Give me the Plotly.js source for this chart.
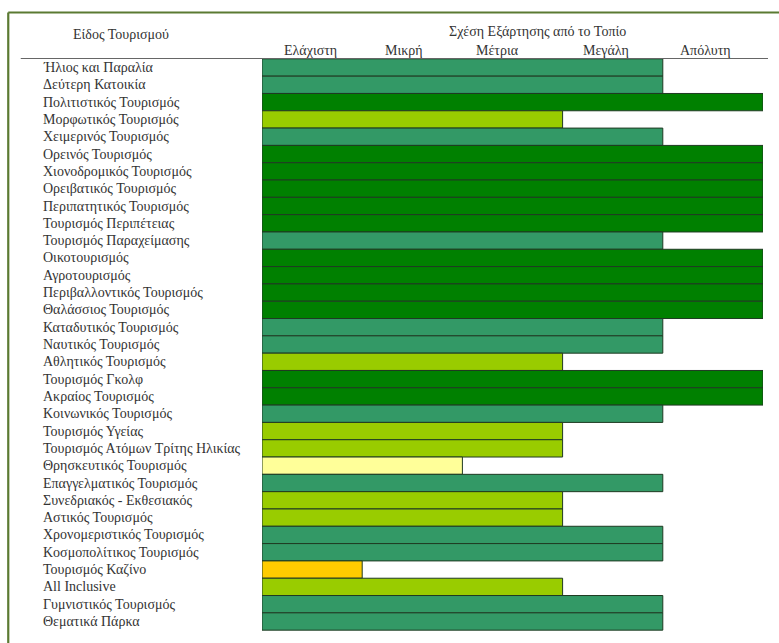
<!DOCTYPE html>
<html>
<head>
<meta charset="utf-8">
<script src="https://cdn.plot.ly/plotly-3.0.1.min.js"></script>
<style>html,body{margin:0;padding:0;background:#fff;}#chart{width:779px;height:643px;}</style>
</head>
<body>
<div id="chart"></div>
<script>
// Data
const tourismTypes = [
  "Ήλιος και Παραλία","Δεύτερη Κατοικία","Πολιτιστικός Τουρισμός","Μορφωτικός Τουρισμός",
  "Χειμερινός Τουρισμός","Ορεινός Τουρισμός","Χιονοδρομικός Τουρισμός","Ορειβατικός Τουρισμός",
  "Περιπατητικός Τουρισμός","Τουρισμός Περιπέτειας","Τουρισμός Παραχείμασης","Οικοτουρισμός",
  "Αγροτουρισμός","Περιβαλλοντικός Τουρισμός","Θαλάσσιος Τουρισμός","Καταδυτικός Τουρισμός",
  "Ναυτικός Τουρισμός","Αθλητικός Τουρισμός","Τουρισμός Γκολφ","Ακραίος Τουρισμός",
  "Κοινωνικός Τουρισμός","Τουρισμός Υγείας","Τουρισμός Ατόμων Τρίτης Ηλικίας","Θρησκευτικός Τουρισμός",
  "Επαγγελματικός Τουρισμός","Συνεδριακός - Εκθεσιακός","Αστικός Τουρισμός","Χρονομεριστικός Τουρισμός",
  "Κοσμοπολίτικος Τουρισμός","Τουρισμός Καζίνο","All Inclusive","Γυμνιστικός Τουρισμός","Θεματικά Πάρκα"
];
const dependenceLevel = [
  4,4,5,3,
  4,5,5,5,
  5,5,4,5,
  5,5,5,4,
  4,3,5,5,
  4,3,3,2,
  4,3,3,4,
  4,1,3,4,4
];
const levelLabels = ["Ελάχιστη","Μικρή","Μέτρια","Μεγάλη","Απόλυτη"];
const levelLabelPos = [0.48, 1.42, 2.35, 3.43, 4.43];
const rowHeader = "Είδος Τουρισμού";
const colHeader = "Σχέση Εξάρτησης από το Τοπίο";

const levelColors = {1:"#FFCC00",2:"#FFFF99",3:"#99CC00",4:"#339966",5:"#008000"};

// geometry helpers (pixel -> paper)
const L=261.5, R=763, T=58, B=631, W=779, H=643;
const px = x => (x-L)/(R-L);
const py = y => (B-y)/(B-T);

const txtFont = {family:"Liberation Serif, Times New Roman, serif", size:14, color:"#333333"};
const hdrFont = {family:"Liberation Serif, Times New Roman, serif", size:14, color:"#333333"};

const trace = {
  type:"bar", orientation:"h",
  y: tourismTypes, x: dependenceLevel,
  marker:{color: dependenceLevel.map(v=>levelColors[v]), line:{color:"#1f3a22", width:1}},
  hoverinfo:"y+x"
};

const annotations = [];
tourismTypes.forEach(t=>{
  annotations.push({xref:"paper", yref:"y", x:px(40), y:t, text:t, showarrow:false,
    xanchor:"left", yanchor:"middle", font:txtFont});
});
levelLabels.forEach((lab,i)=>{
  annotations.push({xref:"x", yref:"paper", x:levelLabelPos[i], y:py(51), text:lab, showarrow:false,
    xanchor:"center", yanchor:"middle", font:hdrFont});
});
annotations.push({xref:"paper", yref:"paper", x:px(120), y:py(35), text:rowHeader, showarrow:false,
  xanchor:"center", yanchor:"middle", font:hdrFont});
annotations.push({xref:"paper", yref:"paper", x:px(537), y:py(32), text:colHeader, showarrow:false,
  xanchor:"center", yanchor:"middle", font:hdrFont});

const shapes = [
  // header underline
  {type:"line", xref:"paper", yref:"paper", x0:px(20), x1:px(768), y0:py(58.5), y1:py(58.5),
   line:{color:"#666", width:1}, layer:"above"},
  // outer frame (top & left visible)
  {type:"line", xref:"paper", yref:"paper", x0:px(7.5), x1:px(790), y0:py(12.5), y1:py(12.5),
   line:{color:"#5b7a32", width:2.2}},
  {type:"line", xref:"paper", yref:"paper", x0:px(7.5), x1:px(7.5), y0:py(12.5), y1:py(660),
   line:{color:"#5b7a32", width:2.2}}
];

const layout = {
  width:W, height:H,
  margin:{l:L, r:W-R, t:T, b:H-B, pad:0},
  paper_bgcolor:"#fff", plot_bgcolor:"#fff",
  bargap:0,
  showlegend:false,
  xaxis:{range:[0,5], showgrid:false, zeroline:false, showticklabels:false, ticks:"", fixedrange:true},
  yaxis:{autorange:"reversed", showgrid:false, zeroline:false, showticklabels:false, ticks:"", fixedrange:true},
  annotations, shapes
};

Plotly.newPlot("chart", [trace], layout, {displayModeBar:false, staticPlot:true});
</script>
</body>
</html>
